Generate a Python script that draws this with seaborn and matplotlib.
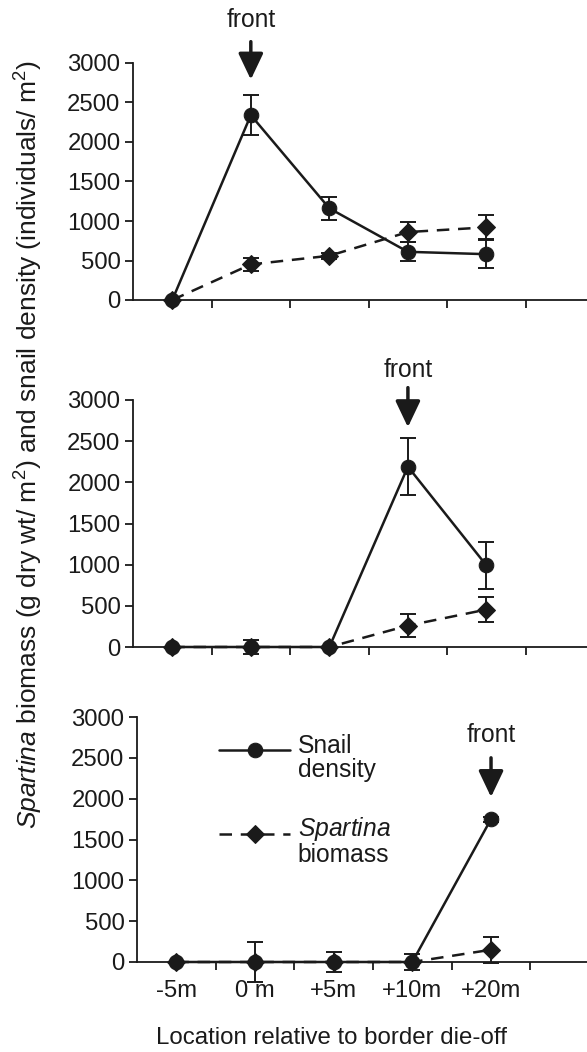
import numpy as np
import pandas as pd
import seaborn as sns
import matplotlib.pyplot as plt

# --- dados ---
locations = ["-5m", "0 m", "+5m", "+10m", "+20m"]

snail_1 = [0, 2340, 1160, 610, 580]
snail_err_1 = [0, 250, 150, 120, 180]
spart_1 = [0, 450, 560, 860, 920]
spart_err_1 = [0, 80, 40, 130, 150]

snail_2 = [0, 0, 0, 2190, 990]
snail_err_2 = [0, 80, 0, 345, 280]
spart_2 = [0, 0, 0, 260, 455]
spart_err_2 = [0, 0, 0, 140, 150]

snail_3 = [0, 0, 0, 0, 1750]
snail_err_3 = [0, 0, 0, 100, 30]
spart_3 = [0, 0, 0, 0, 150]
spart_err_3 = [0, 250, 120, 0, 160]

front_idx = [1, 3, 4]

sns.set_style("ticks")
plt.rcParams['font.family'] = ['Liberation Sans', 'DejaVu Sans']
plt.rcParams['mathtext.fontset'] = 'custom'
plt.rcParams['mathtext.rm'] = 'Liberation Sans'
plt.rcParams['mathtext.it'] = 'Liberation Sans:italic'
ink = '#1a1a1a'
plt.rcParams['text.color'] = ink
plt.rcParams['axes.edgecolor'] = ink
plt.rcParams['xtick.color'] = ink
plt.rcParams['ytick.color'] = ink
FS = 17.2

fig = plt.figure(figsize=(5.87, 10.52), dpi=100)
W, H = 587, 1052
# (esquerda px, topo px, base px, fim do eixo x em unidades)
boxes = [(133, 63, 300, 5.28), (133, 400, 647, 5.28), (137, 717, 962, 5.22)]
panels = [(snail_1, snail_err_1, spart_1, spart_err_1),
          (snail_2, snail_err_2, spart_2, spart_err_2),
          (snail_3, snail_err_3, spart_3, spart_err_3)]
# posicao da seta "front" em unidades do eixo y (ponta, topo, texto)
arrows = [(2790, 3270, 3545), (2670, 3150, 3365), (2020, 2500, 2780)]

x = np.arange(len(locations))
for i, ((l, t, b, xr), (sn, sn_e, sp, sp_e)) in enumerate(zip(boxes, panels)):
    ax = fig.add_axes([l / W, 1 - b / H, 1 - l / W, (b - t) / H])
    df = pd.DataFrame({"x": x, "snail": sn, "spart": sp})

    ax.errorbar(x, sn, yerr=sn_e, fmt='none', ecolor=ink, elinewidth=1.4,
                capsize=6, capthick=1.4, clip_on=False, zorder=3)
    ax.errorbar(x, sp, yerr=sp_e, fmt='none', ecolor=ink, elinewidth=1.4,
                capsize=6, capthick=1.4, clip_on=False, zorder=3)
    sns.lineplot(data=df, x="x", y="snail", ax=ax, color=ink, lw=1.8,
                 marker='o', markersize=10.5, markeredgecolor=ink,
                 label="Snail\ndensity", clip_on=False, zorder=4)
    sns.lineplot(data=df, x="x", y="spart", ax=ax, color=ink, lw=1.8,
                 marker='D', markersize=9.5, markeredgecolor=ink,
                 linestyle='--',
                 label="$\\mathit{Spartina}$\nbiomass", clip_on=False, zorder=4)
    ax.lines[-1].set_dashes((5, 3.5))

    ax.set_xlim(-0.5, xr)
    ax.set_ylim(0, 3000)
    ax.set_yticks(np.arange(0, 3001, 500))
    ax.set_xticks(x)
    ax.set_xticks(x + 0.5, minor=True)
    ax.tick_params(axis='x', which='major', length=0, labelsize=FS, pad=13)
    ax.tick_params(axis='x', which='minor', length=6, width=1.3, direction='out')
    ax.tick_params(axis='y', length=6, width=1.3, labelsize=FS, pad=3)
    if i < 2:
        ax.set_xticklabels([])
    else:
        ax.set_xticklabels(locations)
    ax.set_xlabel("")
    ax.set_ylabel("")
    for s in ['top', 'right']:
        ax.spines[s].set_visible(False)
    for s in ['left', 'bottom']:
        ax.spines[s].set_linewidth(1.3)

    tip, top, txt = arrows[i]
    k = front_idx[i]
    ax.annotate('', xy=(k, tip), xytext=(k, top), annotation_clip=False,
                arrowprops=dict(arrowstyle='-|>,head_length=0.8,head_width=0.38',
                                mutation_scale=20, lw=2.5, color=ink,
                                shrinkA=0, shrinkB=0))
    ax.text(k, txt, "front", ha='center', va='center', fontsize=FS + 0.5,
            clip_on=False)

    if i < 2:
        ax.get_legend().remove()
    else:
        leg = ax.legend(loc='upper left', bbox_to_anchor=(0.155, 0.985),
                        frameon=False, fontsize=FS + 0.5, handlelength=2.9,
                        handleheight=3.0, handletextpad=0.3, labelspacing=1.15,
                        borderpad=0)
        for tx in leg.get_texts():
            tx.set_linespacing(1.0)

fig.text(29 / W, 1 - 444 / H,
         "$\\mathit{Spartina}$ biomass (g dry wt/ m$^2$) and snail density (individuals/ m$^2$)",
         rotation=90, ha='center', va='center', fontsize=19)
fig.text(332 / W, 1 - 1038 / H, "Location relative to border die-off",
         ha='center', va='center', fontsize=17.3)

fig.savefig("out.png", dpi=100)
